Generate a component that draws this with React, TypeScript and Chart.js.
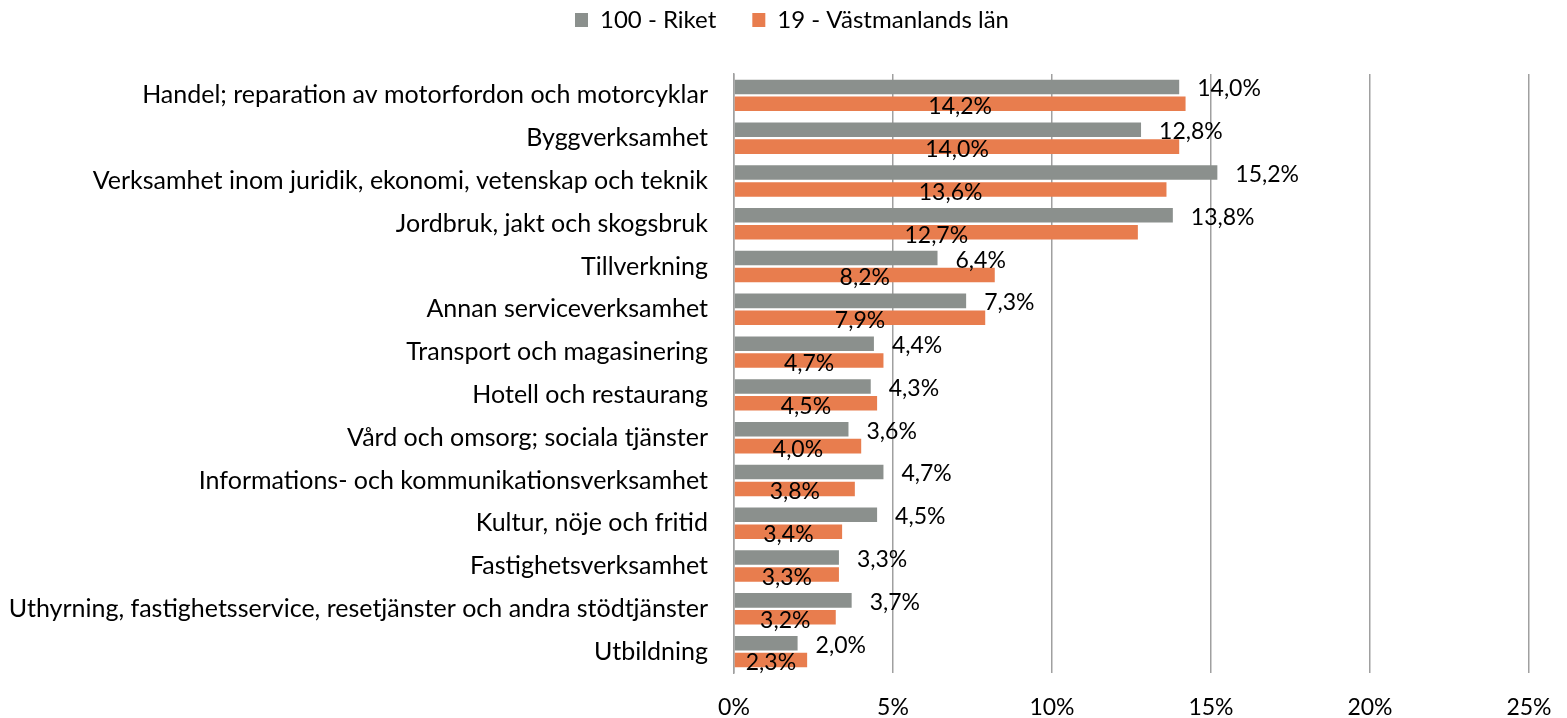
import React, { useEffect, useRef } from "react";
import { Chart, registerables } from "chart.js";

Chart.register(...registerables);

const categories = [
  "Handel; reparation av motorfordon och motorcyklar",
  "Byggverksamhet",
  "Verksamhet inom juridik, ekonomi, vetenskap och teknik",
  "Jordbruk, jakt och skogsbruk",
  "Tillverkning",
  "Annan serviceverksamhet",
  "Transport och magasinering",
  "Hotell och restaurang",
  "Vård och omsorg; sociala tjänster",
  "Informations- och kommunikationsverksamhet",
  "Kultur, nöje och fritid",
  "Fastighetsverksamhet",
  "Uthyrning, fastighetsservice, resetjänster och andra stödtjänster",
  "Utbildning",
];

const riket = [14.0, 12.8, 15.2, 13.8, 6.4, 7.3, 4.4, 4.3, 3.6, 4.7, 4.5, 3.3, 3.7, 2.0];
const vastmanland = [14.2, 14.0, 13.6, 12.7, 8.2, 7.9, 4.7, 4.5, 4.0, 3.8, 3.4, 3.3, 3.2, 2.3];

const seriesNames = ["100 - Riket", "19 - Västmanlands län"];
const tickValues = [0, 5, 10, 15, 20, 25];

const FONT = "Lato";
const GRAY = "#8B908D";
const ORANGE = "#E87D4E";

const fmt = (v: number) => v.toFixed(1).replace(".", ",") + "%";

const legendFit = {
  id: "legendFit",
  beforeLayout(chart: any) {
    const lg = chart.legend;
    if (lg && !lg._patched) {
      const orig = lg.fit;
      lg.fit = function () {
        orig.call(this);
        this.height = 102;
      };
      lg._patched = true;
    }
  },
};

const dataLabels = {
  id: "dataLabels",
  afterDatasetsDraw(chart: any) {
    const ctx = chart.ctx;
    ctx.save();
    ctx.font = `23px ${FONT}`;
    ctx.fillStyle = "#000000";
    ctx.textBaseline = "middle";
    chart.data.datasets.forEach((ds: any, di: number) => {
      const meta = chart.getDatasetMeta(di);
      meta.data.forEach((bar: any, i: number) => {
        const v = ds.data[i];
        if (di === 0) {
          ctx.textAlign = "left";
          ctx.fillText(fmt(v), bar.x + 18, bar.y + 2);
        } else {
          ctx.textAlign = "center";
          ctx.fillText(fmt(v), (bar.base + bar.x) / 2, bar.y + 3);
        }
      });
    });
    ctx.restore();
  },
};

export default function App() {
  const ref = useRef<HTMLCanvasElement | null>(null);

  useEffect(() => {
    document.body.style.margin = "0";
    const canvas = ref.current!;
    const chart = new Chart(canvas, {
      type: "bar",
      data: {
        labels: categories,
        datasets: [
          {
            label: seriesNames[0],
            data: riket,
            backgroundColor: GRAY,
            categoryPercentage: 0.79,
            barPercentage: 0.86,
          },
          {
            label: seriesNames[1],
            data: vastmanland,
            backgroundColor: ORANGE,
            categoryPercentage: 0.79,
            barPercentage: 0.86,
          },
        ],
      },
      options: {
        indexAxis: "y",
        animation: false,
        responsive: false,
        maintainAspectRatio: false,
        layout: { padding: { top: -28, left: 55, right: 38, bottom: 0 } },
        scales: {
          x: {
            min: 0,
            max: 25,
            afterBuildTicks: (scale: any) => {
              scale.ticks = tickValues.map((v) => ({ value: v }));
            },
            afterFit: (scale: any) => {
              scale.height = 45;
            },
            ticks: {
              color: "#000000",
              font: { family: FONT, size: 23 },
              padding: 3,
              callback: (v: any) => `${v}%`,
            },
            grid: {
              color: "#A0A0A0",
              lineWidth: 1.5,
              drawTicks: true,
              tickLength: 18,
              tickColor: "rgba(0,0,0,0)",
            },
            border: { display: false },
          },
          y: {
            afterFit: (scale: any) => {
              scale.width = 679;
              scale._computeLabelArea = () => undefined;
            },
            ticks: {
              color: "#000000",
              font: { family: FONT, size: 25 },
              padding: 26,
              autoSkip: false,
            },
            grid: { display: false, drawTicks: false },
            border: { display: true, color: "#A0A0A0", width: 1.5 },
          },
        },
        plugins: {
          legend: {
            position: "top",
            labels: {
              boxWidth: 13,
              boxHeight: 14,
              padding: 36,
              color: "#000000",
              font: { family: FONT, size: 24 },
            },
          },
          tooltip: { enabled: false },
        },
      },
      plugins: [legendFit, dataLabels],
    } as any);
    return () => chart.destroy();
  }, []);

  return (
    <div style={{ width: 1567, height: 718 }}>
      <canvas ref={ref} width={1567} height={718} style={{ display: "block" }} />
    </div>
  );
}
